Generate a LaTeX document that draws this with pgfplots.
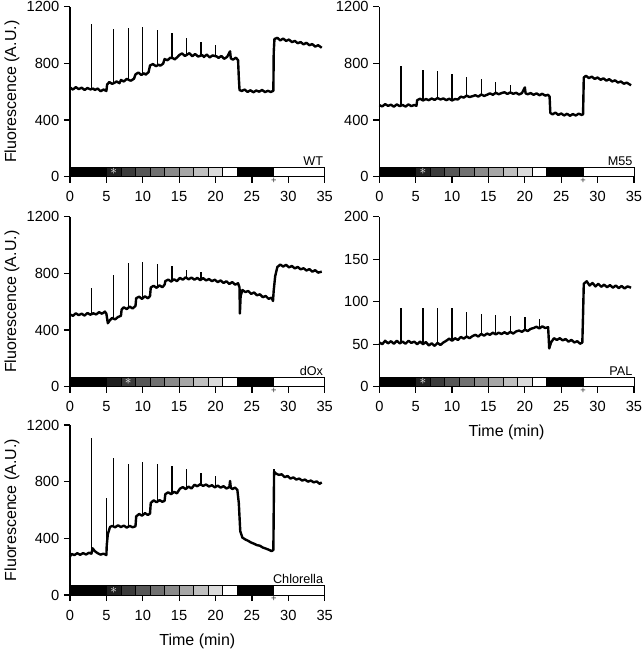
\documentclass[border=0pt]{standalone}
\usepackage{pgfplots}
\pgfplotsset{compat=1.18}
\usepackage{fontspec}
\setmainfont{Liberation Sans}

\newcommand{\lightbar}[3]{%
\filldraw[draw=black,line width=0.5pt,fill=black] (axis cs:0,0) rectangle (axis cs:5,#1);
\filldraw[draw=black,line width=0.5pt,fill=black!88] (axis cs:5,0) rectangle (axis cs:7,#1);
\filldraw[draw=black,line width=0.5pt,fill=black!77] (axis cs:7,0) rectangle (axis cs:9,#1);
\filldraw[draw=black,line width=0.5pt,fill=black!66] (axis cs:9,0) rectangle (axis cs:11,#1);
\filldraw[draw=black,line width=0.5pt,fill=black!56] (axis cs:11,0) rectangle (axis cs:13,#1);
\filldraw[draw=black,line width=0.5pt,fill=black!46] (axis cs:13,0) rectangle (axis cs:15,#1);
\filldraw[draw=black,line width=0.5pt,fill=black!35] (axis cs:15,0) rectangle (axis cs:17,#1);
\filldraw[draw=black,line width=0.5pt,fill=black!25] (axis cs:17,0) rectangle (axis cs:19,#1);
\filldraw[draw=black,line width=0.5pt,fill=black!14] (axis cs:19,0) rectangle (axis cs:21,#1);
\filldraw[draw=black,line width=0.5pt,fill=white] (axis cs:21,0) rectangle (axis cs:23,#1);
\filldraw[draw=black,line width=0.5pt,fill=black] (axis cs:23,0) rectangle (axis cs:28,#1);
\filldraw[draw=black,line width=0.5pt,fill=white] (axis cs:28,0) rectangle (axis cs:35,#1);
\node[text=white, inner sep=0pt, font=\normalsize] at (axis cs:#2,#3) {$\ast$};
\node[anchor=north, inner sep=0pt, yshift=-0.6pt, font=\scriptsize, text=black!80] at (axis cs:28,0) {+};
}

\tikzset{tag/.style={anchor=south east, font=\fontsize{9.5}{11}\selectfont, inner sep=1pt}}

\pgfplotsset{
 panel/.style={
  scale only axis, width=191pt, height=127.5pt,
  xmin=0, xmax=35, ymin=0,
  axis lines=left, axis line style={-, line width=0.9pt},
  tick align=outside, major tick length=4.5pt,
  every tick/.style={black, line width=0.9pt},
  xtick={0,5,...,35},
  /pgf/number format/assume math mode=true,
  /pgf/number format/1000 sep={},
  tick label style={font=\fontsize{11}{13}\selectfont},
  xticklabel style={yshift=-3.2pt},
  label style={font=\fontsize{12}{14}\selectfont},
  ylabel style={at={(axis description cs:-0.228,0.5)}, anchor=center},
  xlabel style={at={(axis description cs:0.5,-0.27)}, anchor=center},
  clip=false,
  anchor=south west,
 },
 big/.style={ymax=1200, ytick={0,400,800,1200}},
 trace/.style={black, line width=1.8pt, line join=round, mark=none},
 spike/.style={black, line width=1.0pt, mark=none},
}

\begin{document}
\begin{tikzpicture}
\useasboundingbox (0,0) rectangle (482.25pt,-488.25pt);

% ---------------- WT ----------------
\begin{axis}[panel, big, at={(52.5pt,-132.5pt)}, ylabel={Fluorescence (A.U.)}]
\lightbar{68}{6}{34}
\node[tag] at (axis cs:35,68) {WT};
\addplot[trace] coordinates {
(0.0,630) (0.4,615) (0.8,632) (1.2,618) (1.6,628) (2.0,612) (2.4,626) (2.8,616) (3.2,622)
(3.4,612) (3.8,622) (4.2,603) (4.6,615) (5.0,605) (5.1,650) (5.4,668) (5.8,655) (6.2,665)
(6.4,672) (6.8,660) (7.0,682) (7.4,672) (7.8,690) (8.2,680) (8.4,678) (8.8,692) (9.0,722)
(9.4,735) (9.8,718) (10.2,730) (10.4,720) (10.8,738) (11.0,785) (11.4,795) (11.8,780)
(12.2,790) (12.4,783) (12.8,798) (13.0,830) (13.4,822) (13.8,840) (14.2,835) (14.4,828)
(14.8,846) (15.0,858) (15.4,870) (15.8,852) (16.2,865) (16.4,872) (16.8,850) (17.2,866)
(17.6,848) (18.2,858) (18.4,845) (18.8,862) (19.2,842) (19.6,856) (20.2,848) (20.4,838)
(20.8,852) (21.2,832) (21.6,846) (22.0,885) (22.1,835) (22.4,826) (22.8,840) (23.1,822)
(23.2,700) (23.3,612) (23.6,605) (24.0,615) (24.4,598) (24.8,610) (25.2,596) (25.6,608)
(26.0,600) (26.4,612) (26.8,597) (27.2,606) (27.6,598) (27.95,606) (28.0,880) (28.1,972)
(28.5,980) (28.9,962) (29.3,975) (29.7,958) (30.1,968) (30.5,950) (30.9,958) (31.3,942)
(31.7,950) (32.1,934) (32.5,945) (32.9,928) (33.3,936) (33.7,918) (34.1,928) (34.6,910)
};
\addplot[spike, unbounded coords=jump] coordinates {
(3,620) (3,1075) (3,nan) (6,662) (6,1044) (6,nan) (8,685) (8,1051) (8,nan)
(10,728) (10,1056) (10,nan) (12,792) (12,1032) (12,nan) (14,836) (14,1016) (14,nan)
(16,864) (16,980) (16,nan) (18,856) (18,952) (18,nan) (20,846) (20,926)
};
\end{axis}

% ---------------- M55 ----------------
\begin{axis}[panel, big, at={(284.5pt,-132.5pt)}]
\lightbar{68}{6}{34}
\node[tag] at (axis cs:35,68) {M55};
\addplot[trace] coordinates {
(0.0,505) (0.4,496) (0.8,512) (1.2,500) (1.6,508) (2.0,494) (2.4,510) (2.8,498) (3.2,506)
(3.6,495) (4.0,510) (4.4,498) (4.8,506) (5.1,500) (5.2,540) (5.6,550) (6.0,538) (6.4,548)
(6.8,540) (7.2,552) (7.6,542) (8.0,555) (8.4,545) (8.8,552) (9.2,540) (9.6,550) (10.0,538)
(10.4,548) (10.8,545) (11.2,565) (11.6,558) (12.0,572) (12.4,562) (12.8,568) (13.2,575)
(13.6,565) (14.0,580) (14.4,570) (14.8,578) (15.2,588) (15.6,578) (16.0,592) (16.4,582)
(16.8,590) (17.2,596) (17.6,584) (18.0,595) (18.4,585) (18.8,592) (19.2,580) (19.6,590)
(20.0,630) (20.1,588) (20.4,582) (20.8,590) (21.2,578) (21.6,588) (22.0,575) (22.4,585)
(22.8,572) (23.2,578) (23.4,565) (23.5,450) (23.8,440) (24.2,452) (24.6,436) (25.0,446)
(25.4,432) (25.8,444) (26.2,430) (26.6,442) (27.0,432) (27.4,445) (27.8,436) (28.0,440)
(28.1,700) (28.4,712) (28.8,696) (29.2,706) (29.6,690) (30.0,700) (30.4,684) (30.8,694)
(31.2,678) (31.6,688) (32.0,672) (32.4,680) (32.8,664) (33.2,672) (33.6,656) (34.0,664)
(34.6,645)
};
\addplot[spike, unbounded coords=jump] coordinates {
(3,505) (3,780) (3,nan) (6,545) (6,756) (6,nan) (8,552) (8,749) (8,nan)
(10,540) (10,727) (10,nan) (12,568) (12,704) (12,nan) (14,575) (14,690) (14,nan)
(16,588) (16,668) (16,nan) (18,590) (18,650)
};
\end{axis}

% ---------------- dOx ----------------
\begin{axis}[panel, big, at={(52.5pt,-290pt)}, ylabel={Fluorescence (A.U.)}]
\lightbar{68}{8}{34}
\node[tag] at (axis cs:35,68) {dOx};
\addplot[trace] coordinates {
(0.0,510) (0.4,500) (0.8,518) (1.2,505) (1.6,515) (2.0,502) (2.4,520) (2.8,508) (3.2,518)
(3.6,510) (4.0,526) (4.4,515) (4.8,530) (5.0,515) (5.2,448) (5.5,470) (5.8,485) (6.2,475)
(6.6,492) (7.0,500) (7.1,545) (7.4,560) (7.8,548) (8.2,565) (8.6,552) (9.0,570) (9.1,625)
(9.5,635) (9.9,620) (10.3,638) (10.7,624) (11.0,640) (11.1,700) (11.5,712) (11.9,698)
(12.3,715) (12.7,702) (13.0,720) (13.1,745) (13.5,756) (13.9,742) (14.3,758) (14.7,745)
(15.1,768) (15.5,755) (15.9,772) (16.3,758) (16.7,770) (17.1,755) (17.5,768) (17.9,752)
(18.3,766) (18.7,750) (19.1,760) (19.5,745) (19.9,755) (20.3,738) (20.7,750) (21.1,732)
(21.5,744) (21.9,725) (22.3,738) (22.7,720) (23.1,730) (23.3,700) (23.35,517) (23.45,640)
(23.7,682) (24.1,668) (24.5,675) (24.9,655) (25.3,665) (25.7,645) (26.1,652) (26.5,632)
(26.9,640) (27.3,620) (27.7,628) (27.9,605) (28.0,680) (28.2,780) (28.5,845) (28.9,862)
(29.3,848) (29.7,860) (30.1,842) (30.5,852) (30.9,835) (31.3,845) (31.7,828) (32.1,836)
(32.5,820) (32.9,830) (33.3,812) (33.7,822) (34.1,805) (34.6,812)
};
\addplot[spike, unbounded coords=jump] coordinates {
(3,515) (3,693) (3,nan) (6,480) (6,787) (6,nan) (8,558) (8,873) (8,nan)
(10,628) (10,880) (10,nan) (12,705) (12,869) (12,nan) (14,750) (14,855) (14,nan)
(16,762) (16,826) (16,nan) (18,760) (18,810)
};
\end{axis}

% ---------------- PAL ----------------
\begin{axis}[panel, at={(284.5pt,-290pt)}, ymax=200, ytick={0,50,100,150,200}, xlabel={Time (min)}]
\lightbar{11.3}{6}{5.65}
\node[tag] at (axis cs:35,11.3) {PAL};
\addplot[trace] coordinates {
(0.0,52) (0.4,50) (0.8,54) (1.2,51) (1.6,53.5) (2.0,50.5) (2.4,54) (2.8,51) (3.2,53)
(3.6,50.5) (4.0,54) (4.4,51.5) (4.8,53) (5.2,50) (5.6,53) (6.0,50) (6.4,52.5) (6.8,48.5)
(7.2,51) (7.6,48) (8.0,51.5) (8.4,49) (8.8,52) (9.2,54) (9.6,56.5) (10.0,54) (10.4,57)
(10.8,55) (11.2,58.5) (11.6,56.5) (12.0,59) (12.4,57) (12.8,59.5) (13.2,61) (13.6,59)
(14.0,62) (14.4,60) (14.8,62.5) (15.2,61) (15.6,63.5) (16.0,61.5) (16.4,63.5) (16.8,62)
(17.2,64) (17.6,62) (18.0,64.5) (18.4,62.5) (18.8,65) (19.2,66) (19.6,64.5) (20.0,67)
(20.4,65.5) (20.8,68) (21.2,69) (21.6,70.5) (22.0,68.5) (22.4,71) (22.8,69) (23.2,70)
(23.35,45) (23.6,52) (24.0,57) (24.4,55) (24.8,57) (25.2,54.5) (25.6,56) (26.0,53)
(26.4,55) (26.8,52) (27.2,53.5) (27.6,50.5) (27.9,52) (28.0,85) (28.1,121) (28.5,124)
(28.9,119) (29.3,122) (29.7,118) (30.1,121) (30.5,117.5) (30.9,120) (31.3,117) (31.7,119.5)
(32.1,116.5) (32.5,119) (32.9,116) (33.3,118.5) (33.7,115.5) (34.1,118) (34.6,116.5)
};
\addplot[spike, unbounded coords=jump] coordinates {
(3,52) (3,93) (3,nan) (6,51) (6,92) (6,nan) (8,50) (8,93) (8,nan)
(10,55) (10,92) (10,nan) (12,58) (12,88) (12,nan) (14,61) (14,86) (14,nan)
(16,62) (16,84) (16,nan) (18,63) (18,83) (18,nan) (20,66) (20,82) (20,nan) (22,70) (22,80)
};
\end{axis}

% ---------------- Chlorella ----------------
\begin{axis}[panel, big, at={(52.5pt,-446.25pt)}, ylabel={Fluorescence (A.U.)}, xlabel={Time (min)}]
\lightbar{68}{6}{34}
\node[tag] at (axis cs:35,68) {Chlorella};
\addplot[trace] coordinates {
(0.0,270) (0.2,290) (0.6,282) (1.0,295) (1.4,284) (1.8,296) (2.2,286) (2.6,298) (2.95,292)
(3.1,330) (3.4,310) (3.8,295) (4.2,285) (4.6,292) (5.0,282) (5.05,350) (5.2,430) (5.5,480)
(5.8,488) (6.2,478) (6.6,492) (7.0,480) (7.4,490) (7.8,476) (8.2,488) (8.6,478) (9.0,485)
(9.1,555) (9.5,572) (9.9,560) (10.3,578) (10.7,565) (11.0,575) (11.1,650) (11.5,668)
(11.9,655) (12.3,670) (12.7,658) (13.0,665) (13.1,712) (13.5,725) (13.9,712) (14.3,728)
(14.7,718) (15.1,750) (15.5,762) (15.9,748) (16.3,765) (16.7,752) (17.1,778) (17.5,768)
(17.9,782) (18.3,770) (18.7,780) (19.1,766) (19.5,775) (19.9,760) (20.3,772) (20.7,758)
(21.1,768) (21.5,752) (21.9,762) (22.0,805) (22.1,758) (22.3,748) (22.7,758) (23.0,742)
(23.2,650) (23.4,450) (23.7,405) (24.1,392) (24.5,382) (24.9,370) (25.3,362) (25.7,352)
(26.1,348) (26.5,335) (26.9,328) (27.3,320) (27.7,310) (27.95,318) (28.0,600) (28.05,870)
(28.3,858) (28.7,848) (29.1,852) (29.5,832) (29.9,840) (30.3,822) (30.7,830) (31.1,815)
(31.5,822) (31.9,808) (32.3,815) (32.7,800) (33.1,808) (33.5,795) (33.9,802) (34.3,785)
(34.6,795)
};
\addplot[spike, unbounded coords=jump] coordinates {
(3,292) (3,1110) (3,nan) (5.05,350) (5.05,685) (5.05,nan) (6,484) (6,968) (6,nan)
(8,482) (8,928) (8,nan) (10,565) (10,938) (10,nan) (12,660) (12,928) (12,nan)
(14,720) (14,914) (14,nan) (16,756) (16,890) (16,nan) (18,776) (18,862) (18,nan)
(20,766) (20,843) (20,nan) (28.05,850) (28.05,890)
};
\end{axis}
\end{tikzpicture}
\end{document}
